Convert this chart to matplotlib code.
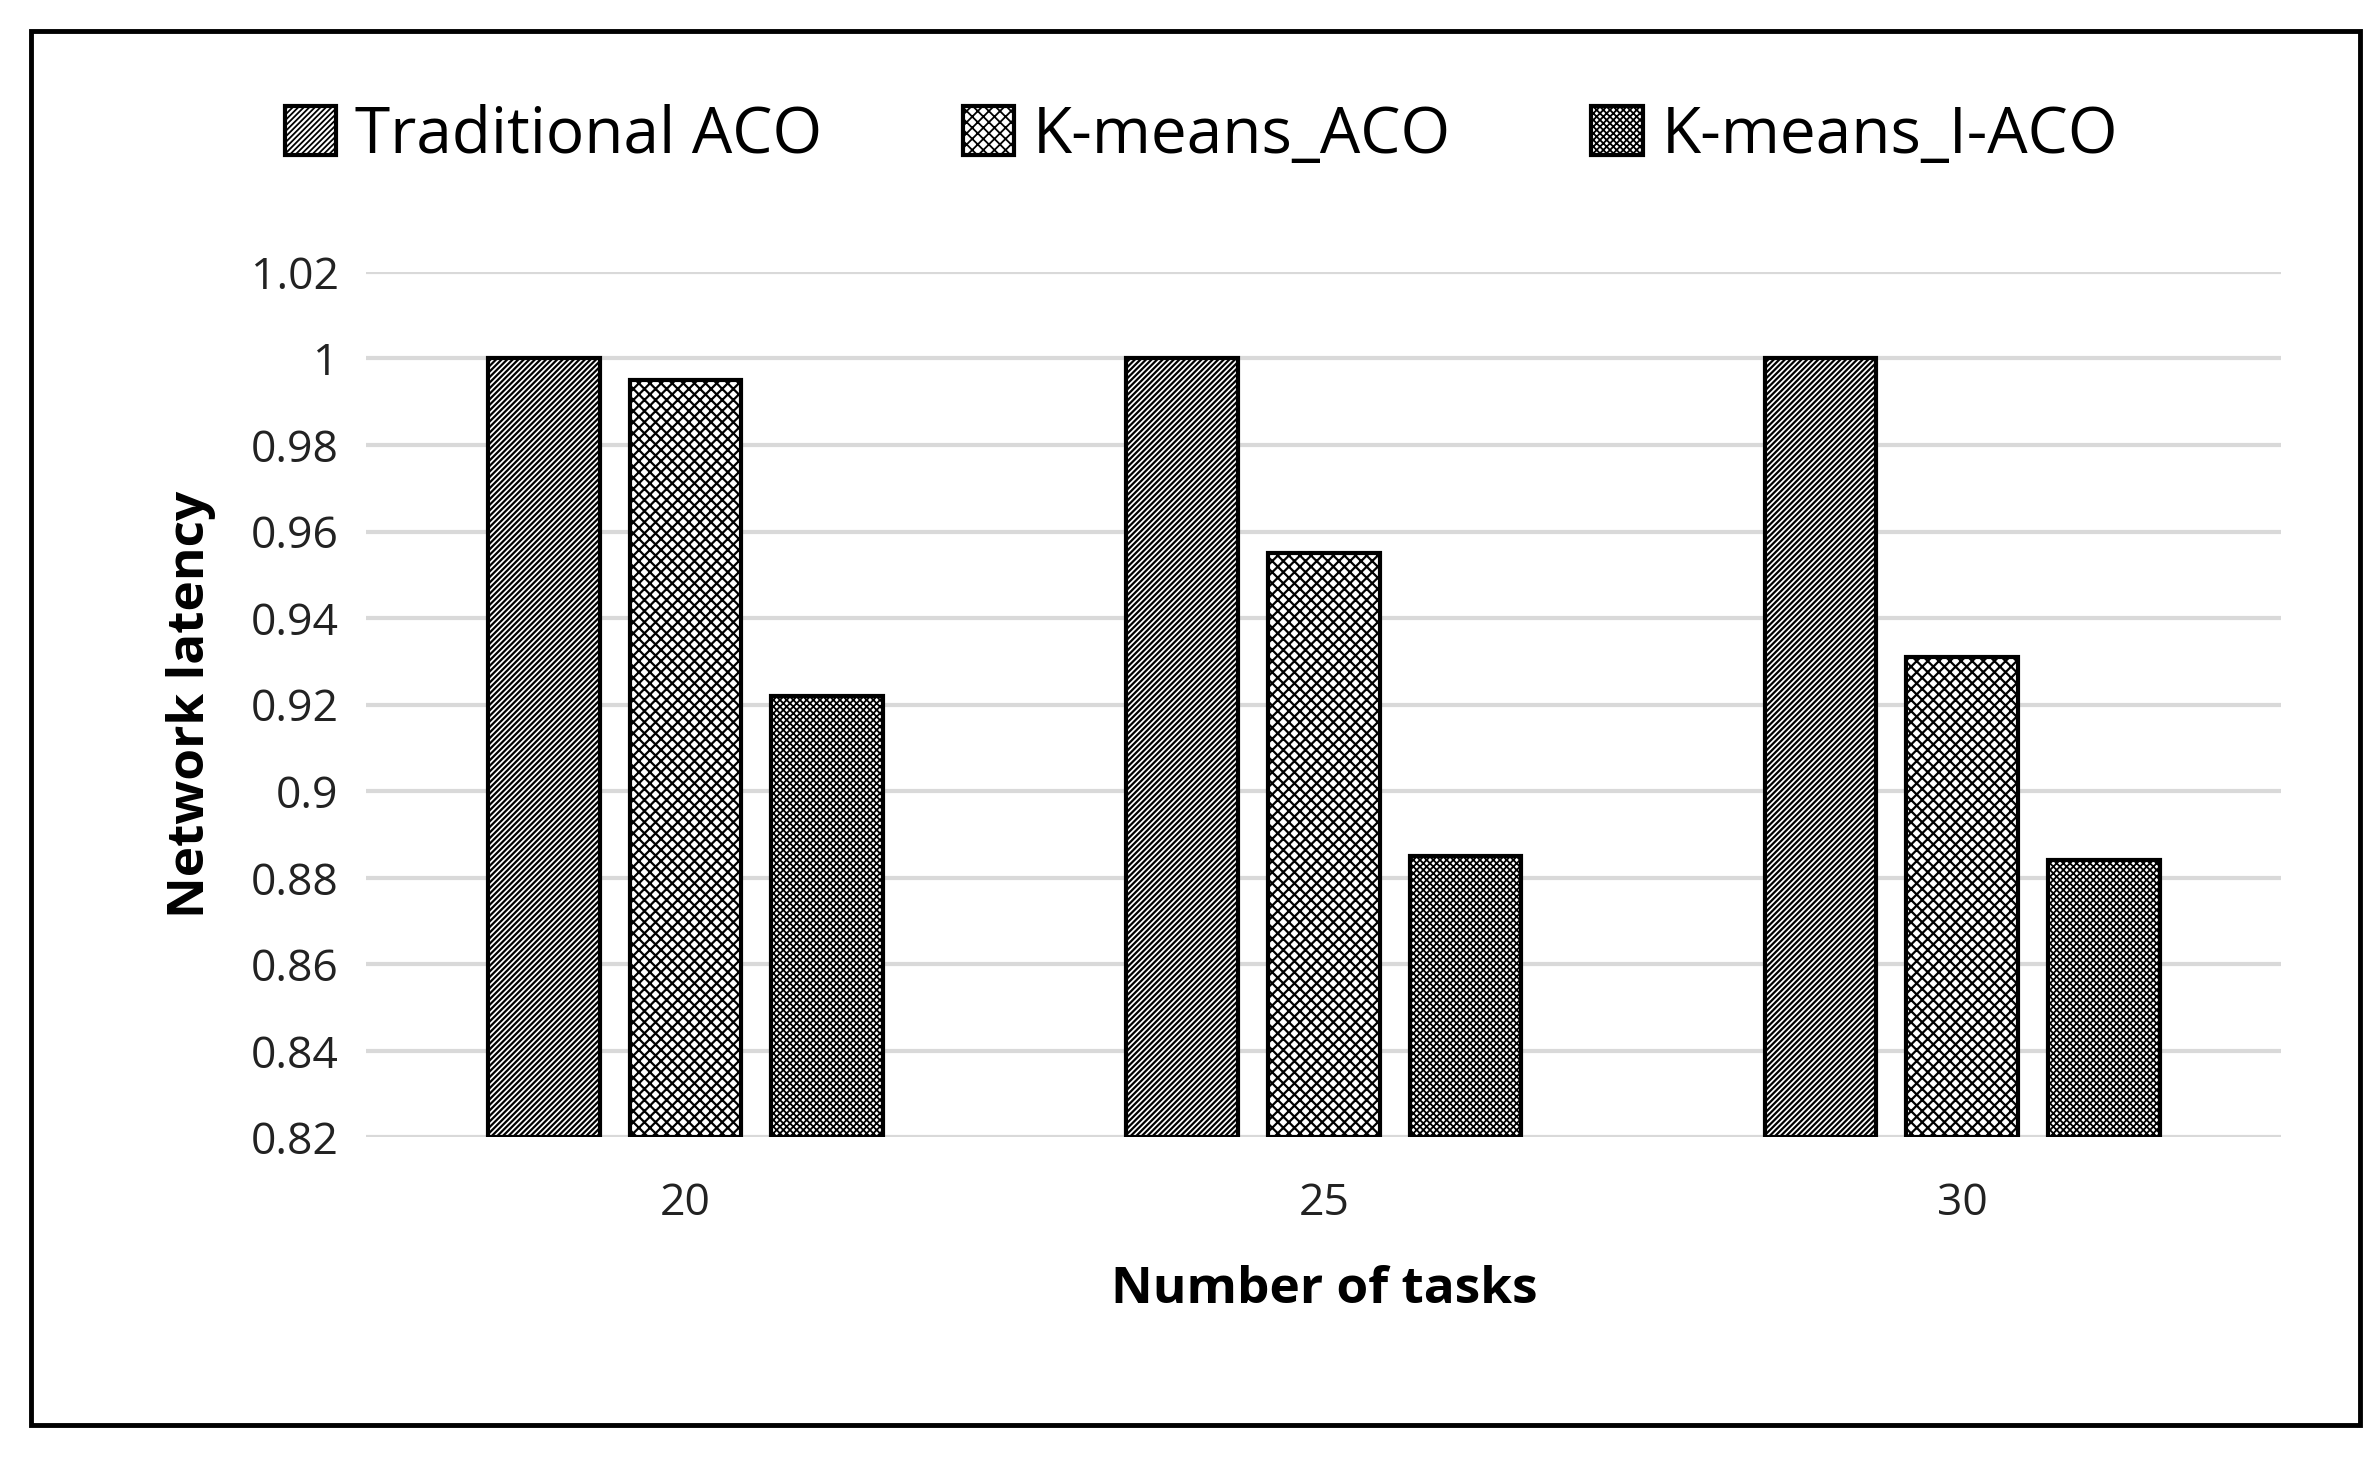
import numpy as np
import matplotlib.pyplot as plt
import matplotlib.patches as mpatches

# ==========================================
# data
# ==========================================
TASKS = ["20", "25", "30"]
SERIES = ["Traditional ACO", "K-means_ACO", "K-means_I-ACO"]
traditional_aco = [1.0, 1.0, 1.0]
kmeans_aco = [0.995, 0.955, 0.931]
kmeans_i_aco = [0.922, 0.885, 0.884]
Y_TICKS = [0.82, 0.84, 0.86, 0.88, 0.9, 0.92, 0.94, 0.96, 0.98, 1, 1.02]

plt.rcParams['font.family'] = ['Open Sans', 'DejaVu Sans']
plt.rcParams['hatch.linewidth'] = 1.6

fig = plt.figure(figsize=(23.79, 14.62), dpi=100)
ax = fig.add_axes([0.154, 0.222, 0.805, 0.592])

# outer frame
fig.patches.append(mpatches.Rectangle((0.013, 0.025), 0.979, 0.954, transform=fig.transFigure,
                                      fill=False, edgecolor='black', linewidth=3.5))

x = np.arange(len(TASKS))
width = 0.175
offs = [-0.222, 0, 0.222]
hatches = ['//////', 'xxx', 'xxxxx']
hatch_lw = [1.6, 1.6, 1.3]
base = 0.82
for vals, off, h, lw, lab in zip([traditional_aco, kmeans_aco, kmeans_i_aco], offs, hatches, hatch_lw, SERIES):
    plt.rcParams['hatch.linewidth'] = lw
    ax.bar(x + off, np.array(vals) - base, width, bottom=base, color='white',
           edgecolor='black', hatch=h, linewidth=3, label=lab, zorder=3)

ax.set_ylim(0.82, 1.02)
ax.set_xlim(-0.5, 2.5)
ax.set_yticks(Y_TICKS)
ax.set_yticklabels([f"{v:g}" for v in Y_TICKS])
ax.set_xticks(x)
ax.set_xticklabels(TASKS)
ax.tick_params(axis='both', length=0, labelsize=32, colors='#222222', pad=20)
ax.tick_params(axis='x', pad=32)
ax.grid(axis='y', color='#d9d9d9', linewidth=3, zorder=0)
for s in ax.spines.values():
    s.set_visible(False)

ax.set_xlabel("Number of tasks", fontsize=37, fontweight='bold', labelpad=28)
ax.set_ylabel("Network latency", fontsize=37, fontweight='bold', labelpad=25)

fig.legend(loc='center', bbox_to_anchor=(0.505, 0.907), ncol=3, frameon=False,
           fontsize=46, handlelength=0.8, handleheight=0.8, columnspacing=2.2, handletextpad=0.3)

plt.savefig("out.png", dpi=100)
